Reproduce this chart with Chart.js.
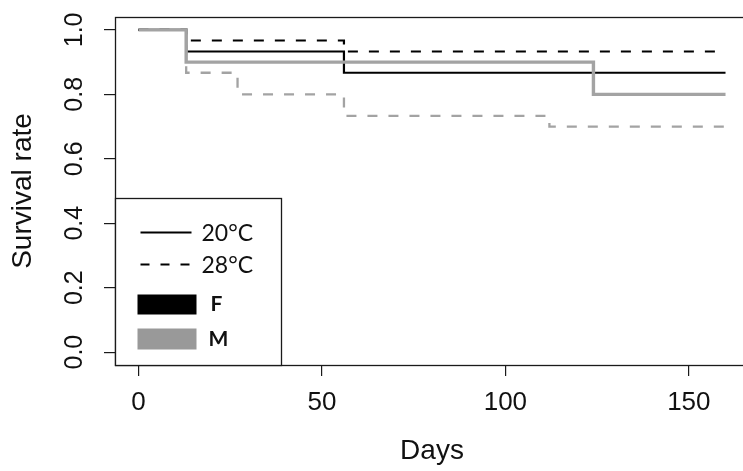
<!DOCTYPE html>
<html><head><meta charset="utf-8">
<script src="https://cdn.jsdelivr.net/npm/chart.js@4/dist/chart.umd.min.js"></script>
<style>
html,body{margin:0;padding:0;background:#fff;overflow:hidden;width:743px;height:471px}
#wrap{position:relative;width:760px;height:471px}
</style></head><body>
<div id="wrap"><canvas id="c" width="760" height="471"></canvas></div>
<script>
// ---- data ----
const xTicks = [0, 50, 100, 150];
const yTicks = [0.0, 0.2, 0.4, 0.6, 0.8, 1.0];
const f20Days = [0, 13, 56, 160];
const f20Surv = [1.0, 0.933, 0.867, 0.867];
const f28Days = [0, 13, 56, 160];
const f28Surv = [1.0, 0.967, 0.933, 0.933];
const m20Days = [0, 13, 124, 160];
const m20Surv = [1.0, 0.9, 0.8, 0.8];
const m28Days = [0, 13, 27, 56, 112, 160];
const m28Surv = [1.0, 0.867, 0.8, 0.733, 0.7, 0.7];
const tempLabels = ['20°C', '28°C'];
const sexLabels = ['F', 'M'];
const xTitle = 'Days';
const yTitle = 'Survival rate';

const BLACK = '#000000';
const GRAY = '#a3a3a3';
const GRAY_BOX = '#999999';
const FONT = '"Liberation Sans", Arial, sans-serif';

const pts = (xs, ys) => xs.map((x, i) => ({x: x, y: ys[i]}));
const mk = (label, xs, ys, color, dash, width) => ({
  label, data: pts(xs, ys), borderColor: color, borderWidth: width,
  borderDash: dash, stepped: 'before', pointRadius: 0, fill: false,
  borderCapStyle: 'butt', borderJoinStyle: 'miter', tension: 0
});

const boxPlugin = {
  id: 'box',
  afterDatasetsDraw(chart) {
    const a = chart.chartArea, ctx = chart.ctx;
    ctx.save();
    ctx.strokeStyle = '#1a1a1a'; ctx.lineWidth = 1.3; ctx.setLineDash([]);
    ctx.strokeRect(a.left + 0.5, a.top + 0.5, a.right - a.left, a.bottom - a.top);
    ctx.restore();
  }
};

const legendPlugin = {
  id: 'rlegend',
  afterDraw(chart) {
    const a = chart.chartArea, ctx = chart.ctx;
    const x0 = a.left + 0.5, y1 = a.bottom + 0.5, w = 166, h = 167;
    const y0 = y1 - h;
    ctx.save();
    ctx.fillStyle = '#fff'; ctx.fillRect(x0, y0, w, h);
    ctx.strokeStyle = '#1a1a1a'; ctx.lineWidth = 1.3; ctx.strokeRect(x0, y0, w, h);
    // line-style keys
    ctx.strokeStyle = BLACK; ctx.lineWidth = 2;
    ctx.beginPath(); ctx.setLineDash([]);
    ctx.moveTo(x0 + 25, y0 + 34); ctx.lineTo(x0 + 76, y0 + 34); ctx.stroke();
    ctx.beginPath(); ctx.setLineDash([9, 11]);
    ctx.moveTo(x0 + 25, y0 + 66); ctx.lineTo(x0 + 76, y0 + 66); ctx.stroke();
    ctx.setLineDash([]);
    ctx.fillStyle = '#111'; ctx.textBaseline = 'middle'; ctx.textAlign = 'left';
    ctx.font = '23px Lato, "Open Sans", sans-serif';
    ctx.fillText(tempLabels[0], x0 + 86, y0 + 35);
    ctx.fillText(tempLabels[1], x0 + 86, y0 + 67);
    // colour keys
    ctx.fillStyle = BLACK; ctx.fillRect(x0 + 22, y0 + 96, 59, 20);
    ctx.fillStyle = GRAY_BOX; ctx.fillRect(x0 + 22, y0 + 130, 59, 21);
    ctx.fillStyle = '#111';
    ctx.font = 'bold 21px Lato, "Open Sans", sans-serif';
    ctx.fillText(sexLabels[0], x0 + 95, y0 + 106);
    ctx.fillText(sexLabels[1], x0 + 93, y0 + 141);
    ctx.restore();
  }
};

new Chart(document.getElementById('c'), {
  type: 'line',
  data: {
    datasets: [
      mk('M 20°C', m20Days, m20Surv, GRAY, [], 3.4),
      mk('F 20°C', f20Days, f20Surv, BLACK, [], 2.2),
      mk('F 28°C', f28Days, f28Surv, BLACK, [10, 11], 2.2),
      mk('M 28°C', m28Days, m28Surv, GRAY, [10, 11], 2.3)
    ]
  },
  options: {
    responsive: false,
    devicePixelRatio: 1,
    animation: false,
    layout: {padding: {top: 17, right: 11, left: 0, bottom: 0}},
    plugins: {legend: {display: false}, tooltip: {enabled: false}},
    scales: {
      x: {
        type: 'linear', position: 'bottom', min: -6.4, max: 166.4,
        afterBuildTicks: s => { s.ticks = xTicks.map(v => ({value: v})); },
        afterFit: s => { s.height = 106; s.paddingLeft = 0; s.paddingRight = 0; },
        ticks: {autoSkip: false, maxRotation: 0, padding: 11, color: '#111',
                font: {family: FONT, size: 26}, callback: v => String(v)},
        grid: {drawOnChartArea: false, drawTicks: true, tickLength: 11, color: '#1a1a1a', lineWidth: 1.2},
        border: {display: false},
        title: {display: true, text: xTitle, color: '#111', font: {family: FONT, size: 28},
                padding: {top: 0, bottom: 3}}
      },
      y: {
        type: 'linear', position: 'left', min: -0.04, max: 1.04,
        afterBuildTicks: s => { s.ticks = yTicks.map(v => ({value: v})); },
        afterFit: s => { s.width = 115; s.paddingTop = 0; s.paddingBottom = 0; },
        ticks: {autoSkip: false, minRotation: 90, maxRotation: 90, crossAlign: 'center',
                padding: 12, color: '#111', font: {family: FONT, size: 25},
                callback: v => Number(v).toFixed(1)},
        grid: {drawOnChartArea: false, drawTicks: true, tickLength: 11, color: '#1a1a1a', lineWidth: 1.2},
        border: {display: false},
        title: {display: true, text: yTitle, color: '#111', font: {family: FONT, size: 28},
                padding: {top: 6, bottom: 0}}
      }
    }
  },
  plugins: [boxPlugin, legendPlugin]
});
</script>
</body></html>
